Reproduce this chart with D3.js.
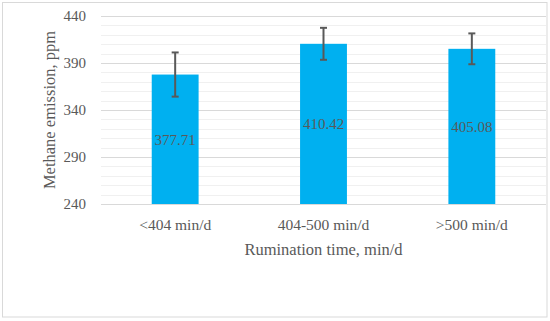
<!DOCTYPE html>
<html lang="en">
<head>
    <meta charset="UTF-8">
    <title>Methane emission</title>
    <script type="text/javascript" src="https://cdn.jsdelivr.net/npm/d3@7"></script>
    <style type="text/css">
        body { margin: 0; background: #fff; }
        text { font-family: "Liberation Serif", "DejaVu Serif", serif; fill: #595959; }
    </style>
</head>
<body>
    <script type="text/javascript">

        // data
        var categories = ['<404 min/d', '404-500 min/d', '>500 min/d'];
        var means = [377.71, 410.42, 405.08];
        var errors = [23.5, 17, 16.4];
        var yTicks = [240, 290, 340, 390, 440];
        var xTitle = 'Rumination time, min/d';
        var yTitle = 'Methane emission, ppm';

        //Width and height
        var w = 550;
        var h = 321;
        var plotLeft = 101, plotRight = 546, plotTop = 16, plotBottom = 204;

        var svg = d3.select("body")
            .append("svg")
            .attr("width", w)
            .attr("height", h);

        // outer frame
        svg.append("rect")
            .attr("x", 2.5)
            .attr("y", 2.5)
            .attr("width", 544.5)
            .attr("height", 314.5)
            .attr("fill", "#fff")
            .attr("stroke", "#d9d9d9");

        var x = d3.scaleBand()
            .domain(categories)
            .range([plotLeft, plotRight])
            .paddingInner(0.684)
            .paddingOuter(0.342);

        var y = d3.scaleLinear()
            .domain([240, 440])
            .range([plotBottom, plotTop]);

        // gridlines, minor every 10, major every 50
        var minor = d3.range(250, 440, 10).filter(function(d) { return d % 50 != 40; });
        svg.append("g")
            .selectAll("line")
            .data(minor)
            .enter()
            .append("line")
            .attr("x1", plotLeft)
            .attr("x2", plotRight)
            .attr("y1", function(d) { return Math.round(y(d)) + 0.5; })
            .attr("y2", function(d) { return Math.round(y(d)) + 0.5; })
            .attr("stroke", "#f0f0f0");

        svg.append("g")
            .selectAll("line")
            .data(yTicks)
            .enter()
            .append("line")
            .attr("x1", plotLeft)
            .attr("x2", plotRight)
            .attr("y1", function(d) { return Math.round(y(d)) + 0.5; })
            .attr("y2", function(d) { return Math.round(y(d)) + 0.5; })
            .attr("stroke", "#d9d9d9");

        // y axis labels
        var yAxis = d3.axisLeft(y)
            .tickValues(yTicks)
            .tickSize(0)
            .tickPadding(15);

        svg.append("g")
            .attr("transform", "translate(" + plotLeft + ",0)")
            .call(yAxis)
            .call(function(g) { g.select(".domain").remove(); })
            .selectAll("text")
            .attr("font-family", "Liberation Serif")
            .attr("font-size", "15px")
            .attr("fill", "#595959");

        // bars
        svg.append("g")
            .selectAll("rect")
            .data(means)
            .enter()
            .append("rect")
            .attr("x", function(d, i) { return x(categories[i]); })
            .attr("y", function(d) { return y(d); })
            .attr("width", x.bandwidth())
            .attr("height", function(d) { return y(240) - y(d); })
            .attr("fill", "#00b0f0");

        // error bars
        var eb = svg.append("g")
            .selectAll("g")
            .data(means)
            .enter()
            .append("g")
            .attr("stroke", "#595959")
            .attr("stroke-width", 2);

        eb.append("line")
            .attr("x1", function(d, i) { return x(categories[i]) + x.bandwidth() / 2; })
            .attr("x2", function(d, i) { return x(categories[i]) + x.bandwidth() / 2; })
            .attr("y1", function(d, i) { return y(d + errors[i]); })
            .attr("y2", function(d, i) { return y(d - errors[i]); });

        eb.append("line")
            .attr("x1", function(d, i) { return x(categories[i]) + x.bandwidth() / 2 - 3.5; })
            .attr("x2", function(d, i) { return x(categories[i]) + x.bandwidth() / 2 + 3.5; })
            .attr("y1", function(d, i) { return y(d + errors[i]); })
            .attr("y2", function(d, i) { return y(d + errors[i]); });

        eb.append("line")
            .attr("x1", function(d, i) { return x(categories[i]) + x.bandwidth() / 2 - 3.5; })
            .attr("x2", function(d, i) { return x(categories[i]) + x.bandwidth() / 2 + 3.5; })
            .attr("y1", function(d, i) { return y(d - errors[i]); })
            .attr("y2", function(d, i) { return y(d - errors[i]); });

        // value labels
        svg.append("g")
            .selectAll("text")
            .data(means)
            .enter()
            .append("text")
            .text(function(d) { return d.toFixed(2); })
            .attr("x", function(d, i) { return x(categories[i]) + x.bandwidth() / 2; })
            .attr("y", function(d) { return (y(d) + y(240)) / 2 + 5.5; })
            .attr("font-size", "15px")
            .attr("text-anchor", "middle");

        // x axis
        var xAxis = d3.axisBottom(x)
            .tickSize(0)
            .tickPadding(15);

        svg.append("g")
            .attr("transform", "translate(0," + plotBottom + ")")
            .call(xAxis)
            .call(function(g) { g.select(".domain").remove(); })
            .selectAll("text")
            .attr("font-family", "Liberation Serif")
            .attr("font-size", "15.5px")
            .attr("fill", "#595959");

        svg.append("line")
            .attr("x1", plotLeft)
            .attr("x2", plotRight)
            .attr("y1", plotBottom + 0.5)
            .attr("y2", plotBottom + 0.5)
            .attr("stroke", "#d9d9d9");

        // axis titles
        svg.append("text")
            .text(xTitle)
            .attr("x", (plotLeft + plotRight) / 2)
            .attr("y", 255)
            .attr("font-size", "16.5px")
            .attr("text-anchor", "middle");

        svg.append("text")
            .text(yTitle)
            .attr("transform", "translate(55," + (plotTop + plotBottom) / 2 + ") rotate(-90)")
            .attr("font-size", "16.5px")
            .attr("text-anchor", "middle");

    </script>
</body>
</html>
